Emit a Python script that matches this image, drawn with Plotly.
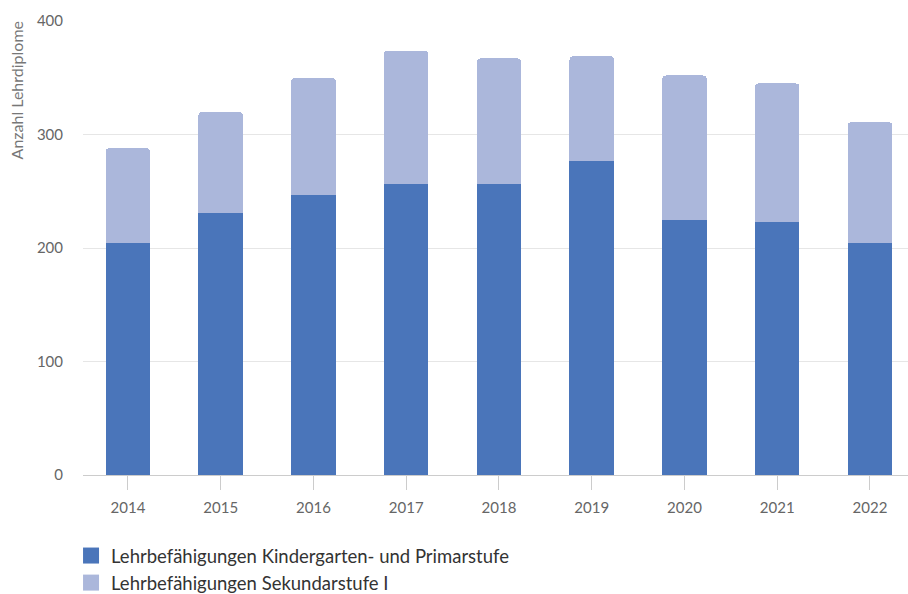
import plotly.graph_objects as go

years = ["2014", "2015", "2016", "2017", "2018", "2019", "2020", "2021", "2022"]
kindergarten_primar = [204, 231, 247, 256, 256, 277, 225, 223, 204]
sekundar_1 = [84, 89, 103, 118, 111, 92, 127, 122, 107]
series_names = ["Lehrbefähigungen Kindergarten- und Primarstufe", "Lehrbefähigungen Sekundarstufe I"]
y_ticks = [0, 100, 200, 300, 400]
y_title = "Anzahl Lehrdiplome"

c1 = "#4a75ba"
c2 = "#abb7db"
FONT = "Lato"

fig = go.Figure()
fig.add_trace(go.Bar(x=years, y=kindergarten_primar, name=series_names[0], marker_color=c1,
                     marker_line_width=0, width=0.48, showlegend=False))
fig.add_trace(go.Bar(x=years, y=sekundar_1, name=series_names[1], marker_color=c2,
                     marker_line_width=0, width=0.48, showlegend=False))
for nm, c in zip(series_names, [c1, c2]):
    fig.add_trace(go.Scatter(x=[None], y=[None], mode="markers", name=nm,
                             marker=dict(symbol="square", size=18, color=c)))

fig.update_layout(
    width=908, height=594,
    barmode="stack", barcornerradius=4,
    margin=dict(l=83, r=0, t=21, b=119, autoexpand=False),
    paper_bgcolor="white", plot_bgcolor="white",
    font=dict(family=FONT, color="#666666", size=15),
    legend=dict(orientation="v", traceorder="normal", x=-0.0145, xanchor="left",
                y=-0.1366, yanchor="top",
                font=dict(size=18.5, color="#333333", family=FONT), tracegroupgap=0,
                bgcolor="rgba(0,0,0,0)"),
    xaxis=dict(type="category", range=[-0.485, 8.41], showgrid=False,
               showline=True, linecolor="#cccccc", linewidth=1,
               ticks="outside", ticklen=14, tickcolor="#cccccc",
               tickfont=dict(size=15, color="#666666"), ticklabelstandoff=5),
    yaxis=dict(range=[0, 400], tickvals=y_ticks, showgrid=True, gridcolor="#e6e6e6",
               zeroline=False, showline=False, ticks="",
               tickfont=dict(size=15, color="#666666"), ticklabelstandoff=19),
    annotations=[dict(text=y_title, xref="paper", yref="paper", x=-0.0806, y=0.846,
                      xanchor="center", yanchor="middle", textangle=-90, showarrow=False,
                      font=dict(size=16, color="#777777", family=FONT))],
)

fig.write_html("out.html")
